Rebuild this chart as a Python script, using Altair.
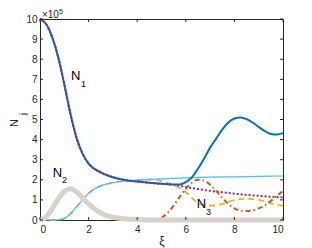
import altair as alt
import pandas as pd

# ---------------- data (values in units of 1e5) ----------------
n1_x = [0, 0.25, 0.5, 0.75, 1.0, 1.25, 1.5, 1.75, 2.0, 2.5, 3.0, 3.5, 4.0, 4.5, 5.0, 5.5]
n1_y = [10.0, 9.75, 9.1, 8.1, 6.75, 5.3, 4.1, 3.3, 2.8, 2.37, 2.13, 1.99, 1.91, 1.85, 1.8, 1.76]

blue_tail_x = [5.75, 6.0, 6.25, 6.5, 6.75, 7.0, 7.25, 7.5, 7.75, 8.0, 8.25, 8.5, 8.75, 9.0, 9.25, 9.5, 9.75, 10.0]
blue_tail_y = [1.77, 1.88, 2.12, 2.55, 3.05, 3.6, 4.05, 4.5, 4.85, 5.05, 5.1, 5.02, 4.85, 4.63, 4.42, 4.28, 4.25, 4.32]

purple_tail_x = [6.0, 6.5, 7.0, 7.5, 8.0, 8.5, 9.0, 9.5, 10.0]
purple_tail_y = [1.64, 1.54, 1.45, 1.38, 1.31, 1.25, 1.2, 1.16, 1.12]

cyan_x = [0, 0.5, 0.75, 1.0, 1.25, 1.5, 1.75, 2.0, 2.25, 2.5, 3.0, 3.5, 4.0, 4.5, 5.0, 6.0, 7.0, 8.0, 9.0, 10.0]
cyan_y = [0, 0, 0.01, 0.08, 0.3, 0.65, 1.0, 1.33, 1.55, 1.7, 1.86, 1.94, 1.98, 2.02, 2.05, 2.1, 2.13, 2.15, 2.17, 2.19]

yellow_head_x = [0, 0.5, 0.75, 1.0, 1.25, 1.5, 1.75, 2.0, 2.25, 2.5, 3.0, 3.5, 4.0, 4.5]
yellow_head_y = [0, 0, 0.01, 0.08, 0.3, 0.65, 1.0, 1.33, 1.55, 1.7, 1.86, 1.94, 1.98, 2.01]
yellow_tail_x = [4.75, 5.0, 5.25, 5.5, 5.75, 6.0, 6.25, 6.5, 6.75, 7.0, 7.25, 7.5, 7.75, 8.0, 8.25, 8.5, 8.75, 9.0, 9.25, 9.5, 9.75, 10.0]
yellow_tail_y = [2.0, 1.94, 1.85, 1.74, 1.58, 1.38, 1.1, 0.84, 0.75, 0.72, 0.74, 0.8, 0.9, 0.99, 1.04, 1.05, 1.04, 1.0, 0.93, 0.83, 0.75, 0.72]

orange_x = [4.5, 4.75, 5.0, 5.25, 5.5, 5.75, 6.0, 6.25, 6.5, 6.75, 7.0, 7.25, 7.5, 7.75, 8.0, 8.25, 8.5, 8.75, 9.0, 9.25, 9.5, 9.75, 10.0]
orange_y = [0, 0.02, 0.12, 0.35, 0.72, 1.15, 1.55, 1.85, 2.0, 1.97, 1.75, 1.45, 1.1, 0.8, 0.58, 0.47, 0.45, 0.48, 0.58, 0.72, 0.95, 1.2, 1.45]

gray_x = [0, 0.25, 0.5, 0.75, 1.0, 1.25, 1.5, 1.75, 2.0, 2.25, 2.5, 2.75, 3.0, 3.5, 4.0, 4.5, 5.0, 6.0, 7.0, 8.0, 9.0, 10.0]
gray_y = [0, 0.15, 0.55, 1.05, 1.42, 1.55, 1.4, 1.1, 0.8, 0.55, 0.35, 0.22, 0.14, 0.06, 0.02, 0, 0, 0, 0, 0, 0, 0]

x_ticks = [0, 2, 4, 6, 8, 10]
y_ticks = [0, 1, 2, 3, 4, 5, 6, 7, 8, 9, 10]

label_x = [1.28, 0.52, 6.45]
label_y = [6.98, 2.14, 0.58]
label_text = ["N", "N", "N"]
sub_x = [1.69, 0.91, 6.83]
sub_y = [6.63, 1.85, 0.25]
sub_text = ["1", "2", "3"]

exp_x = [0.08]
exp_y = [10.05]
exp_text = ["\u00d710"]
sup_x = [0.78]
sup_y = [10.27]
sup_text = ["5"]

# ---------------- chart ----------------
W, H = 243, 201
FONT = "Liberation Sans"
AX = "#262626"

xs = alt.Scale(domain=[0, 10], nice=False, zero=False)
ys = alt.Scale(domain=[0, 10], nice=False, zero=False)

x_axis = alt.Axis(values=x_ticks, title="\u03be", ticks=False, tickSize=0, grid=False,
                  labelPadding=4, labelFontSize=10, labelColor=AX, labelFont=FONT,
                  labelOverlap=False, domainColor=AX, titleFont=FONT, titleFontSize=12,
                  titleFontWeight="normal", titleColor=AX, titlePadding=1, format="d")
y_axis = alt.Axis(values=y_ticks, title=None, ticks=False, tickSize=0, grid=False,
                  labelPadding=3, labelFontSize=10, labelColor=AX, labelFont=FONT,
                  labelOverlap=False, domainColor=AX, format="d")


def X(field):
    return alt.X(field, scale=xs, axis=x_axis)


def Y(field):
    return alt.Y(field, scale=ys, axis=y_axis)


def line(xv, yv, color, width, dash=None):
    df = pd.DataFrame({"xi": xv, "n": yv})
    kw = dict(color=color, strokeWidth=width, interpolate="monotone")
    if dash:
        kw["strokeDash"] = dash
    return alt.Chart(df).mark_line(**kw).encode(x=X("xi:Q"), y=Y("n:Q"))


layers = [
    line(yellow_head_x + yellow_tail_x, yellow_head_y + yellow_tail_y, "#EDB120", 1.8, [6, 4]),
    line(cyan_x, cyan_y, "#4DBEEE", 1.2),
    line(n1_x + blue_tail_x, n1_y + blue_tail_y, "#0072BD", 2),
    line(n1_x + purple_tail_x, n1_y + purple_tail_y, "#7E2F8E", 2, [2, 2]),
    line(orange_x, orange_y, "#D95319", 2, [5, 3, 1.5, 3]),
    line(gray_x, gray_y, "#D6D2CB", 5),
]

# inward ticks (MATLAB style)
xt = pd.DataFrame({"t": x_ticks})
yt = pd.DataFrame({"t": y_ticks})
tick_style = dict(color=AX, strokeWidth=1)
layers += [
    alt.Chart(xt).mark_rule(**tick_style).encode(x=X("t:Q"), y=alt.value(H), y2=alt.value(H - 3)),
    alt.Chart(xt).mark_rule(**tick_style).encode(x=X("t:Q"), y=alt.value(0), y2=alt.value(3)),
    alt.Chart(yt).mark_rule(**tick_style).encode(y=Y("t:Q"), x=alt.value(0), x2=alt.value(3)),
    alt.Chart(yt).mark_rule(**tick_style).encode(y=Y("t:Q"), x=alt.value(W), x2=alt.value(W - 3)),
]


def texts(xv, yv, tv, size, color="#000000"):
    df = pd.DataFrame({"xi": xv, "n": yv, "t": tv})
    return alt.Chart(df).mark_text(font=FONT, fontSize=size, align="left", baseline="alphabetic",
                                   color=color).encode(x=X("xi:Q"), y=Y("n:Q"), text="t:N")


layers += [
    texts(label_x, label_y, label_text, 13),
    texts(sub_x, sub_y, sub_text, 9),
    texts(exp_x, exp_y, exp_text, 10, AX),
    texts(sup_x, sup_y, sup_text, 7, AX),
]

# y-axis title N_j (rotated)
one = pd.DataFrame({"a": [0]})
layers += [
    alt.Chart(one).mark_text(font=FONT, fontSize=11, angle=270, align="center", baseline="middle",
                             color=AX).encode(x=alt.value(-25), y=alt.value(104), text=alt.value("N")),
    alt.Chart(one).mark_text(font=FONT, fontSize=9, angle=270, align="center", baseline="middle",
                             color=AX).encode(x=alt.value(-17), y=alt.value(95), text=alt.value("j")),
]

chart = alt.layer(*layers).properties(
    width=W, height=H,
    autosize=alt.AutoSizeParams(type="none"),
    padding={"left": 32, "top": 11, "right": 21, "bottom": 28},
).configure_view(stroke=AX, strokeWidth=1)

chart.save("out.html", embed_options={"renderer": "svg", "actions": False})
